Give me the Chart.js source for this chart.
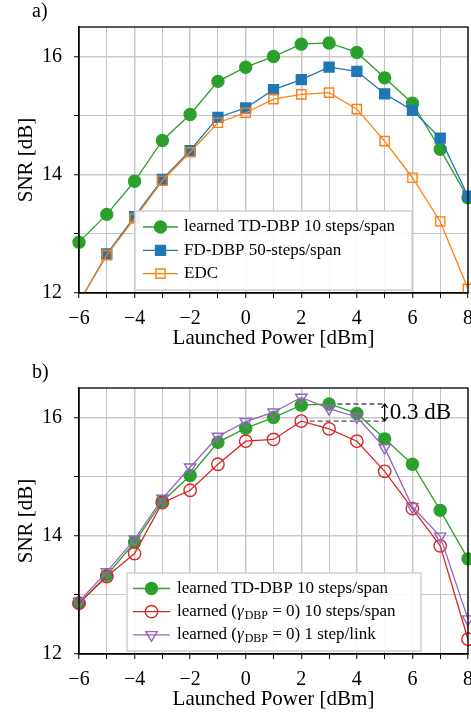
<!DOCTYPE html>
<html>
<head>
<meta charset="utf-8">
<script src="https://cdn.jsdelivr.net/npm/chart.js@4/dist/chart.umd.min.js"></script>
<style>
  body { margin: 0; width: 471px; height: 715px; overflow: hidden; background: #fff; }
  canvas { position: absolute; left: 0; }
</style>
</head>
<body>
<canvas id="graficoA" width="471" height="360" style="top:0px"></canvas>
<canvas id="graficoB" width="471" height="360" style="top:361px"></canvas>
<script>
// potencia lanzada [dBm]
const potencia = [-6, -5, -4, -3, -2, -1, 0, 1, 2, 3, 4, 5, 6, 7, 8];

// panel a)
const snrTdDbp = [12.86, 13.33, 13.89, 14.58, 15.02, 15.58, 15.82, 16.00, 16.21, 16.23, 16.07, 15.64, 15.21, 14.43, 13.61];
const snrFdDbp = [11.84, 12.66, 13.29, 13.92, 14.41, 14.97, 15.13, 15.44, 15.61, 15.82, 15.75, 15.37, 15.09, 14.62, 13.64];
const snrEdc   = [11.84, 12.64, 13.26, 13.90, 14.38, 14.88, 15.05, 15.28, 15.36, 15.39, 15.11, 14.57, 13.95, 13.21, 12.07];

// panel b)
const snrGamma0Span = [12.86, 13.31, 13.70, 14.56, 14.77, 15.21, 15.60, 15.63, 15.94, 15.81, 15.60, 15.09, 14.46, 13.83, 12.25];
const snrGamma0Link = [12.89, 13.39, 13.94, 14.63, 15.16, 15.68, 15.93, 16.09, 16.34, 16.15, 16.01, 15.49, 14.49, 13.99, 12.59];

const nombresA = ['learned TD-DBP 10 steps/span', 'FD-DBP 50-steps/span', 'EDC'];
const nombresB = ['learned TD-DBP 10 steps/span', 'learned (γ_DBP = 0) 10 steps/span', 'learned (γ_DBP = 0) 1 step/link'];

// ejes
const xTicks = [-6, -5, -4, -3, -2, -1, 0, 1, 2, 3, 4, 5, 6, 7, 8];
const etiquetasX = ['\u22126', '', '\u22124', '', '\u22122', '', '0', '', '2', '', '4', '', '6', '', '8'];
const yTicks = [12, 13, 14, 15, 16];
const etiquetasY = ['12', '', '14', '', '16'];

// anotacion 0.3 dB (valores en coordenadas de datos)
const brechaY = [16.23, 15.94];
const brechaDesde = [3.3, 2.3];
const brechaHasta = 5.0;
const brechaTexto = '0.3 dB';

const SERIF = "'Liberation Serif', 'Times New Roman', serif";
Chart.defaults.font.family = SERIF;
Chart.defaults.color = 'black';

const pares = (arr) => potencia.map((x, i) => ({ x: x, y: arr[i] }));

function marcador(ctx, estilo, x, y) {
  ctx.save();
  ctx.fillStyle = estilo.pointBackgroundColor;
  ctx.strokeStyle = estilo.pointBorderColor;
  ctx.lineWidth = estilo.pointBorderWidth;
  Chart.helpers.drawPoint(ctx, {
    pointStyle: estilo.pointStyle,
    rotation: estilo.pointRotation || 0,
    radius: estilo.pointRadius,
    borderWidth: estilo.pointBorderWidth
  }, x, y);
  ctx.restore();
}

const marcoPlugin = {
  id: 'marco',
  afterDatasetsDraw(chart, args, opts) {
    const { ctx, chartArea } = chart;
    ctx.save();
    ctx.strokeStyle = 'black';
    ctx.lineWidth = 1.3;
    ctx.strokeRect(chartArea.left, chartArea.top, chartArea.right - chartArea.left, chartArea.bottom - chartArea.top);
    ctx.fillStyle = 'black';
    ctx.font = '20px ' + SERIF;
    ctx.textBaseline = 'middle';
    ctx.fillText(opts.panel, 32, 12);
    ctx.restore();
  }
};

// texto con subindice para gamma_DBP
function textoRico(ctx, texto, x, y, size) {
  const partes = texto.split(/(γ_DBP)/);
  partes.forEach(p => {
    if (p === 'γ_DBP') {
      ctx.font = 'italic ' + size + 'px ' + SERIF;
      ctx.fillText('γ', x, y);
      x += ctx.measureText('γ').width + 1;
      ctx.font = Math.round(size * 0.72) + 'px ' + SERIF;
      ctx.fillText('DBP', x, y + 4);
      x += ctx.measureText('DBP').width;
    } else if (p) {
      ctx.font = size + 'px ' + SERIF;
      ctx.fillText(p, x, y);
      x += ctx.measureText(p).width;
    }
  });
}

const leyendaPlugin = {
  id: 'leyenda',
  afterDraw(chart, args, opts) {
    const { ctx } = chart;
    ctx.save();
    ctx.fillStyle = 'rgba(255,255,255,0.9)';
    ctx.strokeStyle = '#cfcfcf';
    ctx.lineWidth = 1.5;
    ctx.beginPath();
    ctx.rect(opts.x, opts.y, opts.w, opts.h);
    ctx.fill();
    ctx.stroke();
    chart.data.datasets.forEach((ds, i) => {
      const y = opts.y + opts.primera + i * opts.paso;
      ctx.strokeStyle = ds.borderColor;
      ctx.lineWidth = ds.borderWidth;
      ctx.beginPath();
      ctx.moveTo(opts.x + opts.linea[0], y);
      ctx.lineTo(opts.x + opts.linea[1], y);
      ctx.stroke();
      marcador(ctx, ds, opts.x + (opts.linea[0] + opts.linea[1]) / 2, y);
      ctx.fillStyle = 'black';
      ctx.textBaseline = 'middle';
      textoRico(ctx, ds.label, opts.x + opts.texto, y, 17);
    });
    ctx.restore();
  }
};

const brechaPlugin = {
  id: 'brecha',
  beforeDatasetsDraw(chart) {
    const { ctx, scales } = chart;
    const xf = scales.x.getPixelForValue(brechaHasta);
    ctx.save();
    ctx.strokeStyle = '#555555';
    ctx.lineWidth = 1.4;
    ctx.setLineDash([5, 3]);
    brechaY.forEach((v, i) => {
      const y = scales.y.getPixelForValue(v);
      ctx.beginPath();
      ctx.moveTo(scales.x.getPixelForValue(brechaDesde[i]), y);
      ctx.lineTo(xf, y);
      ctx.stroke();
    });
    ctx.restore();
  },
  afterDraw(chart) {
    const { ctx, scales } = chart;
    const x = scales.x.getPixelForValue(brechaHasta);
    const y1 = scales.y.getPixelForValue(brechaY[0]);
    const y2 = scales.y.getPixelForValue(brechaY[1]);
    ctx.save();
    ctx.strokeStyle = 'black';
    ctx.lineWidth = 1.2;
    ctx.beginPath();
    ctx.moveTo(x, y1); ctx.lineTo(x, y2);
    ctx.moveTo(x - 3, y1 + 4); ctx.lineTo(x, y1); ctx.lineTo(x + 3, y1 + 4);
    ctx.moveTo(x - 3, y2 - 4); ctx.lineTo(x, y2); ctx.lineTo(x + 3, y2 - 4);
    ctx.stroke();
    ctx.fillStyle = 'black';
    ctx.font = '23px ' + SERIF;
    ctx.textBaseline = 'middle';
    ctx.fillText(brechaTexto, x + 5, (y1 + y2) / 2);
    ctx.restore();
  }
};

function serie(nombre, datos, color, estilo, orden) {
  const relleno = estilo.relleno;
  return {
    label: nombre,
    data: pares(datos),
    borderColor: color,
    borderWidth: 1.3,
    pointStyle: estilo.forma,
    pointRadius: estilo.radio,
    pointRotation: estilo.giro || 0,
    pointBorderWidth: 1.4,
    pointBorderColor: color,
    pointBackgroundColor: relleno ? color : 'rgba(0,0,0,0)',
    tension: 0,
    order: orden,
    clip: { left: 10, top: 10, right: 10, bottom: 0 }
  };
}

function sinRelleno(s) {
  s.paddingLeft = 0; s.paddingRight = 0; s.paddingTop = 0; s.paddingBottom = 0;
}

function opcionesEjes() {
  const grid = {
    color: (c) => Math.abs(c.tick.value) % 2 === 0 ? '#c9c9c9' : '#c4c4c4',
    lineWidth: (c) => Math.abs(c.tick.value) % 2 === 0 ? 1.5 : 1,
    dash: (c) => Math.abs(c.tick.value) % 2 === 0 ? [] : [1.2, 3.2],
    tickColor: 'black',
    tickLength: 5,
    tickWidth: 1
  };
  return {
    x: {
      type: 'linear', min: -6, max: 8,
      afterBuildTicks: (s) => { s.ticks = xTicks.map(v => ({ value: v })); },
      afterFit: (s) => { s.height = 67; sinRelleno(s); },
      ticks: { font: { size: 20 }, color: 'black', padding: 9, maxRotation: 0, autoSkip: false,
               callback: (v, i) => etiquetasX[i] },
      grid: grid,
      border: { color: 'black', width: 1.3 },
      title: { display: true, text: 'Launched Power [dBm]', font: { size: 21 }, color: 'black',
               padding: { top: 0, bottom: 9 } }
    },
    y: {
      type: 'linear', min: 12, max: 16.5,
      afterBuildTicks: (s) => { s.ticks = yTicks.map(v => ({ value: v })); },
      afterFit: (s) => { s.width = 79; sinRelleno(s); },
      ticks: { font: { size: 20 }, color: 'black', padding: 12, autoSkip: false,
               callback: (v, i) => etiquetasY[i] },
      grid: grid,
      border: { color: 'black', width: 1.3 },
      title: { display: true, text: 'SNR [dB]', font: { size: 21 }, color: 'black',
               padding: { top: 14, bottom: 0 } }
    }
  };
}

function crearGrafico(id, datasets, panel, leyenda, extra) {
  return new Chart(document.getElementById(id).getContext('2d'), {
    type: 'line',
    data: { datasets: datasets },
    options: {
      responsive: false,
      animation: false,
      events: [],
      layout: { autoPadding: false, padding: { top: 27, right: 3, left: 0, bottom: 0 } },
      scales: opcionesEjes(),
      plugins: {
        legend: { display: false },
        tooltip: { enabled: false },
        marco: { panel: panel },
        leyenda: leyenda
      }
    },
    plugins: [marcoPlugin, leyendaPlugin].concat(extra)
  });
}

const circulo = { forma: 'circle', radio: 6, relleno: true };
const cuadrado = { forma: 'rect', radio: 7, relleno: true };
const cuadradoHueco = { forma: 'rect', radio: 6.5, relleno: false };
const circuloHueco = { forma: 'circle', radio: 6.2, relleno: false };
const trianguloHueco = { forma: 'triangle', radio: 6.5, relleno: false, giro: 180 };

crearGrafico('graficoA', [
  serie(nombresA[0], snrTdDbp, '#2ca02c', circulo, 3),
  serie(nombresA[1], snrFdDbp, '#1f77b4', cuadrado, 2),
  serie(nombresA[2], snrEdc, '#ff7f0e', cuadradoHueco, 1)
], 'a)', { x: 135, y: 211, w: 277, h: 79, primera: 16, paso: 23.3, linea: [8, 43], texto: 49 }, []);

crearGrafico('graficoB', [
  serie(nombresB[0], snrTdDbp, '#2ca02c', circulo, 3),
  serie(nombresB[1], snrGamma0Span, '#d62728', circuloHueco, 2),
  serie(nombresB[2], snrGamma0Link, '#9467bd', trianguloHueco, 1)
], 'b)', { x: 127, y: 212, w: 294, h: 78, primera: 15.5, paso: 23.2, linea: [6, 43], texto: 50 }, [brechaPlugin]);
</script>
</body>
</html>
